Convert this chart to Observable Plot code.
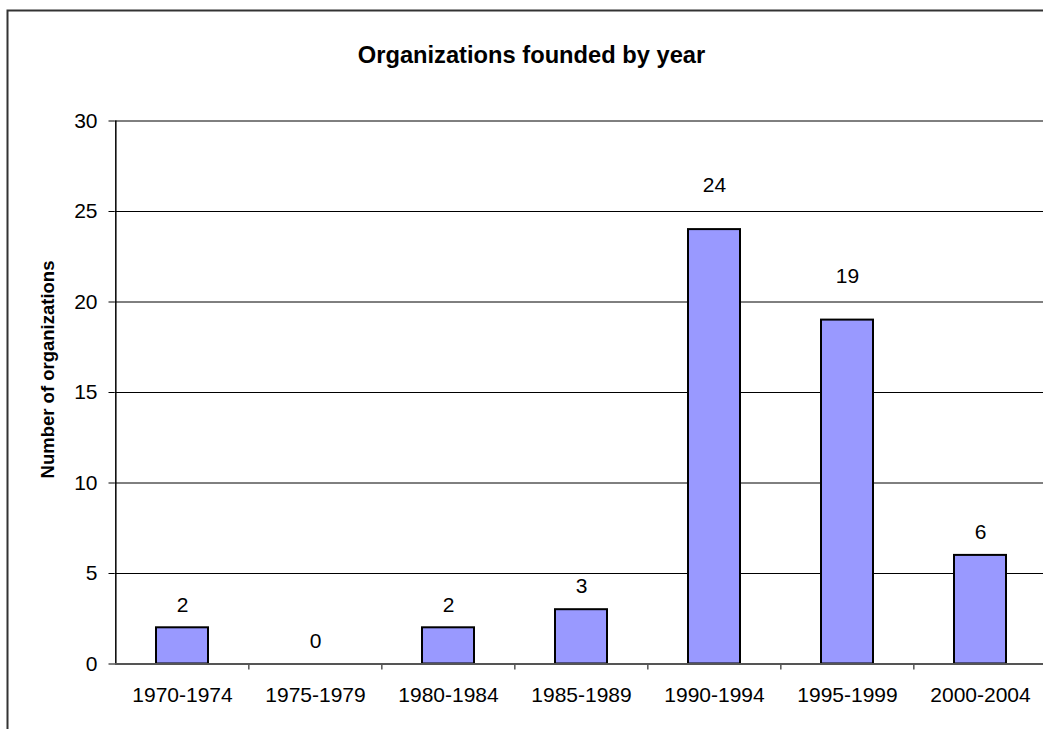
<!DOCTYPE html>
<html>
<head>
<meta charset="utf-8">
<script src="https://cdn.jsdelivr.net/npm/d3@7"></script>
<script src="https://cdn.jsdelivr.net/npm/@observablehq/plot@0.6"></script>
<style>
  html, body { margin: 0; padding: 0; background: white; overflow: hidden; }
</style>
</head>
<body>
<div id="chart"></div>
<script>
const title = "Organizations founded by year";
const yLabel = "Number of organizations";
const periods = ["1970-1974", "1975-1979", "1980-1984", "1985-1989", "1990-1994", "1995-1999", "2000-2004"];
const counts = [2, 0, 2, 3, 24, 19, 6];
const yTicks = [0, 5, 10, 15, 20, 25, 30];

const data = periods.map((p, i) => ({period: p, count: counts[i]}));

const W = 1043, H = 729;
const plotLeft = 114.5, plotRightEnd = 1048, plotTop = 120.5, plotBottom = 663.5;
const step = (plotRightEnd - plotLeft) / periods.length;
const font = "'Liberation Sans', Arial, sans-serif";

const chart = Plot.plot({
  width: W,
  height: H,
  marginLeft: plotLeft,
  marginRight: 0,
  marginTop: plotTop,
  marginBottom: H - plotBottom,
  style: {fontFamily: font, background: "white", color: "black"},
  x: {domain: periods, range: [plotLeft, plotRightEnd], paddingInner: 0.608, paddingOuter: 0.304, align: 0.5},
  y: {domain: [0, 30], range: [plotBottom, plotTop]},
  marks: [
    // outer chart border (only top and left fall inside the picture)
    Plot.frame({stroke: "#333", strokeWidth: 2, fill: "none",
      insetLeft: -(plotLeft - 7), insetTop: -(plotTop - 10), insetRight: -200, insetBottom: -200}),
    // gridlines
    Plot.ruleY(yTicks.filter(v => v > 0), {stroke: "black", strokeWidth: 1}),
    // y axis line
    Plot.ruleX([periods[0]], {y1: 0, y2: 30, dx: -step / 2, stroke: "black", strokeWidth: 1.5}),
    // category boundary ticks
    Plot.ruleX(periods.slice(1), {y1: 0, y2: -0.33, dx: -step / 2, stroke: "#555", strokeWidth: 1.5}),
    // bars
    Plot.barY(data.filter(d => d.count > 0), {x: "period", y: "count", fill: "#9999FF", stroke: "black", strokeWidth: 2}),
    // x axis line
    Plot.ruleY([0], {stroke: "#555", strokeWidth: 2}),
    // value labels
    Plot.text(data.filter(d => d.count < 10), {x: "period", y: "count", text: d => String(d.count), dy: -23, fontSize: 21, fill: "black"}),
    Plot.text(data.filter(d => d.count >= 10), {x: "period", y: "count", text: d => String(d.count), dy: -44, fontSize: 21, fill: "black"}),
    // axes
    Plot.axisY({ticks: yTicks, tickSize: 6, tickPadding: 11.5, fontSize: 21, label: null, stroke: "black"}),
    Plot.axisX({tickSize: 0, tickPadding: 23, fontSize: 21, label: null}),
    // title
    Plot.text([title], {frameAnchor: "top", textAnchor: "middle", dx: -47.75, dy: 46 - plotTop, fontSize: 23.7, fontWeight: "bold", fill: "black"}),
    // y label
    Plot.text([yLabel], {frameAnchor: "left", textAnchor: "middle", rotate: -90, dx: 47.8 - plotLeft, dy: 369 - (plotTop + plotBottom) / 2, fontSize: 18.5, fontWeight: "bold", fill: "black"})
  ]
});

document.getElementById("chart").appendChild(chart);
</script>
</body>
</html>
